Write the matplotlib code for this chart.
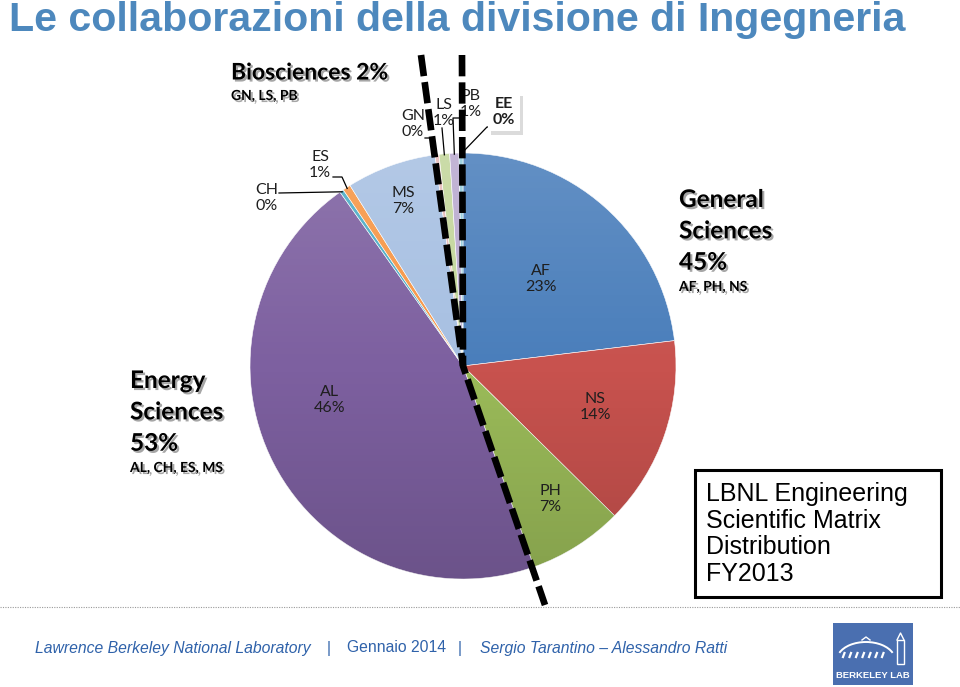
import numpy as np
import matplotlib
matplotlib.use("Agg")
import matplotlib.pyplot as plt
from matplotlib import patches
from matplotlib import patheffects as pe

W, H = 960, 687

# data
codes = ["AF", "NS", "PH", "AL", "CH", "ES", "MS", "GN", "LS", "PB", "EE"]
shares = [23.1, 14.3, 7.2, 45.6, 0.3, 0.6, 6.8, 0.3, 0.8, 0.7, 0.3]
colors = ["#4a7ebb", "#c8524e", "#9bbb59", "#7d60a0", "#4bacc6", "#f79646",
          "#a7c0e2", "#e6b9b8", "#c3d69b", "#b9a9cf", "#93cddd"]

group_names = ["Biosciences", "General\nSciences", "Energy\nSciences"]
group_pct = [2, 45, 53]
group_members = ["GN, LS, PB", "AF, PH, NS", "AL, CH, ES, MS"]

title = "Le collaborazioni della divisione di Ingegneria"
box_text = "LBNL Engineering\nScientific Matrix\nDistribution\nFY2013"
footer = ["Lawrence Berkeley National Laboratory", "|", "Gennaio 2014", "|",
          "Sergio Tarantino \u2013 Alessandro Ratti"]


def Y(y):
    # picture pixel row -> axes y
    return H - y


LAB = "Lato"
ARIAL = "Liberation Sans"

fig = plt.figure(figsize=(W / 100, H / 100), dpi=100)
ax = fig.add_axes([0, 0, 1, 1])

cx, cy, R = 463, 366, 213
wedges, _ = ax.pie(shares, colors=colors, startangle=90, counterclock=False,
                   center=(cx, Y(cy)), radius=R,
                   wedgeprops=dict(edgecolor="#ffffff", linewidth=0.4))

# soft office style shading over the pie
grad = np.zeros((256, 1, 4))
t = np.linspace(0, 1, 256)
grad[:, 0, :3] = np.where(t[:, None] < 0.5, 1.0, 0.0)
grad[:, 0, 3] = np.abs(t - 0.5) * 0.28
im = ax.imshow(grad, extent=(cx - R, cx + R, Y(cy + R), Y(cy - R)),
               aspect="auto", zorder=3, origin="upper")
im.set_clip_path(patches.Circle((cx, Y(cy)), R, transform=ax.transData))

# slice labels
label_xy = [(541, 279), (595, 407), (550, 499), (330, 400), (267, 198),
            (320, 165), (403, 201), (413, 124), (444, 113), (471, 104),
            (504, 112)]
for code, v, (lx, ly) in zip(codes, shares, label_xy):
    kw = dict(ha="center", va="center", fontsize=11.5, family=LAB,
              color="#1e1e1e", zorder=6, linespacing=1.1)
    if code == "EE":
        txt = ax.text(lx, Y(ly), f"{code}\n{v:.0f}%", fontweight="bold",
                      bbox=dict(boxstyle="square,pad=0.3", fc="white",
                                ec="none"), **kw)
        txt.get_bbox_patch().set_path_effects(
            [pe.withSimplePatchShadow(offset=(2.5, -2.5), alpha=0.2)])
    else:
        ax.text(lx, Y(ly), f"{code}\n{v:.0f}%", **kw)

# leader lines to the small slices
cum = np.cumsum([0] + shares[:-1])
mid = {c: np.deg2rad(90 - 3.6 * (s + v / 2)) for c, s, v in zip(codes, cum, shares)}
leader_start = {"CH": [(279, 193)], "ES": [(333, 177), (342, 177)],
                "GN": [(425, 138), (432, 138)], "LS": [(442, 128)],
                "PB": [(462, 118), (453, 118)], "EE": [(492, 127), (487, 127)]}
for c, pts in leader_start.items():
    ex = cx + (R - 1) * np.cos(mid[c])
    ey = Y(cy) + (R - 1) * np.sin(mid[c])
    xs = [p[0] for p in pts] + [ex]
    ys = [Y(p[1]) for p in pts] + [ey]
    ax.plot(xs, ys, color="black", lw=0.9, zorder=5)

# thick dashed dividers
dash = dict(color="black", lw=4.8, dashes=(3.2, 0.9), solid_capstyle="butt",
            dash_capstyle="butt", zorder=7)
ax.plot([421, cx, 545], [Y(55), Y(cy), Y(605)], **dash)
ax.plot([462, cx], [Y(55), Y(cy)], **dash)

# group headings
shadow = [pe.withSimplePatchShadow(offset=(1.5, -1.5), alpha=0.35)]
ax.text(231, Y(73), f"{group_names[0]} {group_pct[0]}%", fontsize=16.5,
        fontweight="bold", family=LAB, va="center", path_effects=shadow)
ax.text(231, Y(96), group_members[0], fontsize=10, fontweight="bold",
        family=LAB, va="center", path_effects=shadow)
for (gx, gy), name, pct, mem in zip([(679, 188), (130, 369)], group_names[1:],
                                    group_pct[1:], group_members[1:]):
    ax.text(gx, Y(gy), f"{name}\n{pct}%", fontsize=17.5, fontweight="bold",
            family=LAB, va="top", linespacing=1.44, path_effects=shadow)
    ax.text(gx, Y(gy + 99), mem, fontsize=10, fontweight="bold",
            family=LAB, va="center", path_effects=shadow)

# info box
ax.add_patch(patches.Rectangle((695, Y(597)), 246, 127, fc="white",
                               ec="black", lw=2.2, zorder=4))
ax.text(706, Y(534), box_text, fontsize=18, family=ARIAL, va="center",
        linespacing=1.13, zorder=5)

# title
ax.text(9, Y(20), title, fontsize=29.6, fontweight="bold", family=ARIAL,
        color="#4d88bd", va="center")

# footer
ax.plot([0, W], [Y(607), Y(607)], color="#9a9a9a", lw=0.8,
        linestyle=(0, (1, 1.2)))
foot_x = [35, 327, 347, 458, 480]
foot_style = ["italic", "normal", "normal", "normal", "italic"]
for fx, s, st in zip(foot_x, footer, foot_style):
    ax.text(fx, Y(648), s, fontsize=11.3, family=ARIAL, style=st,
            color="#2f62aa", va="center")

# logo
ax.add_patch(patches.Rectangle((833, Y(685)), 80, 62, fc="#4a6fb0", ec="none"))
ax.add_patch(patches.Arc((866, Y(660)), 58, 36, theta1=15, theta2=165,
                         color="white", lw=1.4))
ax.plot([862, 866, 870], [Y(640), Y(637), Y(640)], color="white", lw=1)
for k in range(7):
    ax.plot([843 + k * 6.5, 844.5 + k * 6.5], [Y(657), Y(653)],
            color="white", lw=1.6)
ax.add_patch(patches.Rectangle((897, Y(664)), 7, 24, fc="none", ec="white", lw=1))
ax.plot([897, 900.5, 904], [Y(640), Y(633), Y(640)], color="white", lw=1)
ax.text(873, Y(675), "BERKELEY LAB", fontsize=6.8, fontweight="bold",
        family=ARIAL, color="white", ha="center", va="center")

ax.set_xlim(0, W)
ax.set_ylim(0, H)
ax.set_aspect("auto")
ax.axis("off")

fig.savefig("out.png", dpi=100)
